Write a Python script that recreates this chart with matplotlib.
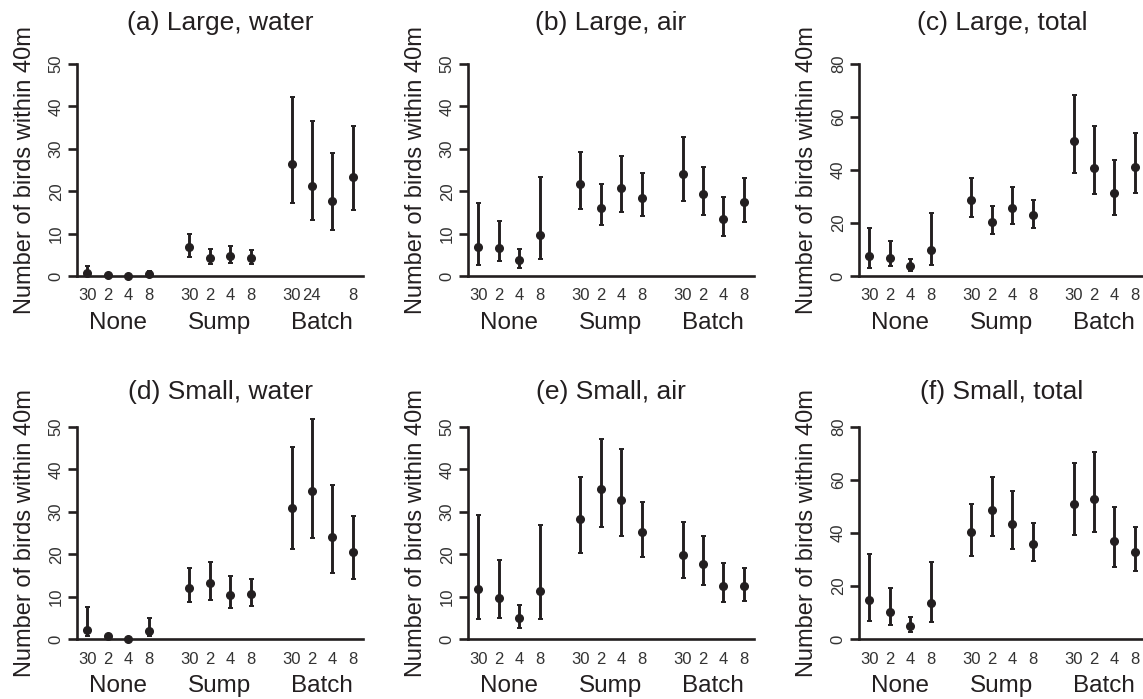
import matplotlib
matplotlib.use('Agg')
import matplotlib.pyplot as plt

plt.rcParams['font.family'] = ['Liberation Sans', 'DejaVu Sans']

INK = '#231f20'

# 12 treatments: 3 groups x 4 levels
positions = [1, 2, 3, 4, 6, 7, 8, 9, 11, 12, 13, 14]
tick_labels = ['30', '2', '4', '8', '30', '2', '4', '8', '30', '2', '4', '8']
tick_labels_a = ['30', '2', '4', '8', '30', '2', '4', '8', '30', '24', '', '8']
groups = ['None', 'Sump', 'Batch']
group_pos = [2.5, 7.5, 12.5]

# (a) Large, water
a_mean = [0.6, 0.15, 0.0, 0.4, 6.85, 4.25, 4.65, 4.3, 26.4, 21.2, 17.6, 23.4]
a_low = [0.0, 0.0, 0.0, 0.0, 4.5, 2.75, 3.1, 2.9, 17.1, 13.1, 10.8, 15.5]
a_high = [2.3, 0.5, 0.1, 1.1, 10.0, 6.3, 7.0, 6.2, 42.3, 36.5, 29.1, 35.4]

# (b) Large, air
b_mean = [6.85, 6.6, 3.7, 9.6, 21.6, 16.1, 20.8, 18.4, 24.1, 19.4, 13.5, 17.4]
b_low = [2.7, 3.5, 2.0, 3.9, 15.7, 12.0, 15.1, 14.2, 17.7, 14.4, 9.4, 12.8]
b_high = [17.3, 13.0, 6.4, 23.4, 29.3, 21.7, 28.3, 24.2, 32.7, 25.8, 18.7, 23.2]

# (c) Large, total
c_mean = [7.6, 6.8, 3.7, 9.9, 28.6, 20.4, 25.6, 22.9, 51.0, 40.9, 31.4, 41.2]
c_low = [3.1, 3.7, 1.9, 4.0, 22.2, 16.0, 19.8, 18.1, 39.0, 31.0, 22.9, 31.4]
c_high = [18.1, 13.2, 6.5, 23.9, 37.0, 26.3, 33.6, 28.7, 68.3, 56.7, 43.7, 54.0]

# (d) Small, water
d_mean = [2.2, 0.6, 0.1, 1.8, 12.0, 13.1, 10.4, 10.6, 30.9, 35.0, 24.0, 20.5]
d_low = [0.6, 0.2, 0.0, 0.6, 8.7, 9.3, 7.3, 7.9, 21.3, 23.9, 15.5, 14.2]
d_high = [7.5, 1.0, 0.2, 4.9, 16.8, 18.1, 14.8, 14.2, 45.4, 51.8, 36.4, 29.0]

# (e) Small, air
e_mean = [11.8, 9.7, 4.9, 11.4, 28.2, 35.4, 32.8, 25.2, 19.9, 17.6, 12.6, 12.4]
e_low = [4.6, 5.0, 2.6, 4.7, 20.3, 26.4, 24.2, 19.3, 14.3, 12.8, 8.7, 8.9]
e_high = [29.3, 18.7, 8.1, 26.8, 38.1, 47.2, 44.7, 32.3, 27.6, 24.2, 18.0, 16.7]

# (f) Small, total
f_mean = [14.7, 10.3, 5.0, 13.5, 40.3, 48.5, 43.3, 35.9, 51.0, 52.9, 36.8, 32.8]
f_low = [6.7, 5.4, 2.8, 6.3, 31.5, 38.8, 33.9, 29.5, 39.4, 40.2, 27.1, 25.6]
f_high = [32.1, 19.3, 8.4, 29.0, 51.0, 61.2, 55.9, 43.6, 66.5, 70.4, 50.0, 42.2]

panels = [
    ('(a) Large, water', a_mean, a_low, a_high, 50, tick_labels_a),
    ('(b) Large, air', b_mean, b_low, b_high, 50, tick_labels),
    ('(c) Large, total', c_mean, c_low, c_high, 80, tick_labels),
    ('(d) Small, water', d_mean, d_low, d_high, 50, tick_labels),
    ('(e) Small, air', e_mean, e_low, e_high, 50, tick_labels),
    ('(f) Small, total', f_mean, f_low, f_high, 80, tick_labels),
]

W, H = 1143, 699
fig = plt.figure(figsize=(W / 100, H / 100), dpi=100)

# panel geometry in pixels
lefts = [77, 468, 859]
tops = [64, 427]
ax_w, ax_h = 286, 212
title_y = [23, 392]

for i, (title, mean, low, high, ymax, labels) in enumerate(panels):
    row, col = divmod(i, 3)
    l, t = lefts[col], tops[row]
    ax = fig.add_axes([l / W, 1 - (t + ax_h) / H, ax_w / W, ax_h / H])
    ax.set_xlim(0.5, 14.5)
    ax.set_ylim(0, ymax)

    yerr = [[m - lo for m, lo in zip(mean, low)], [hi - m for m, hi in zip(mean, high)]]
    ax.errorbar(positions, mean, yerr=yerr, fmt='o', color=INK, ms=5.5,
                elinewidth=2.1, capsize=1.8, capthick=1.4, clip_on=False, zorder=3)

    for s in ['top', 'right']:
        ax.spines[s].set_visible(False)
    for s in ['left', 'bottom']:
        ax.spines[s].set_linewidth(1.9)
        ax.spines[s].set_color(INK)

    ax.set_yticks(range(0, ymax + 1, 10 if ymax == 50 else 20))
    ax.tick_params(axis='y', length=6.5, width=1.9, color=INK, labelsize=12,
                   labelcolor='#333333', pad=3)
    for lbl in ax.get_yticklabels():
        lbl.set_rotation(90)
        lbl.set_va('center')

    ax.set_xticks(positions)
    ax.set_xticklabels(labels)
    ax.tick_params(axis='x', length=0, labelsize=12, labelcolor='#333333', pad=9)

    for g, gp in zip(groups, group_pos):
        ax.text(gp, -47 / ax_h, g, transform=ax.get_xaxis_transform(),
                ha='center', va='center', fontsize=17.5, color=INK)

    ax.text(-52 / ax_w, 0.5, 'Number of birds within 40m', transform=ax.transAxes,
            rotation=90, ha='center', va='center', fontsize=17, color=INK)

    fig.text((l + ax_w / 2) / W, 1 - title_y[row] / H, title,
             ha='center', va='center', fontsize=19, color=INK)

fig.savefig('out.png', dpi=100)
